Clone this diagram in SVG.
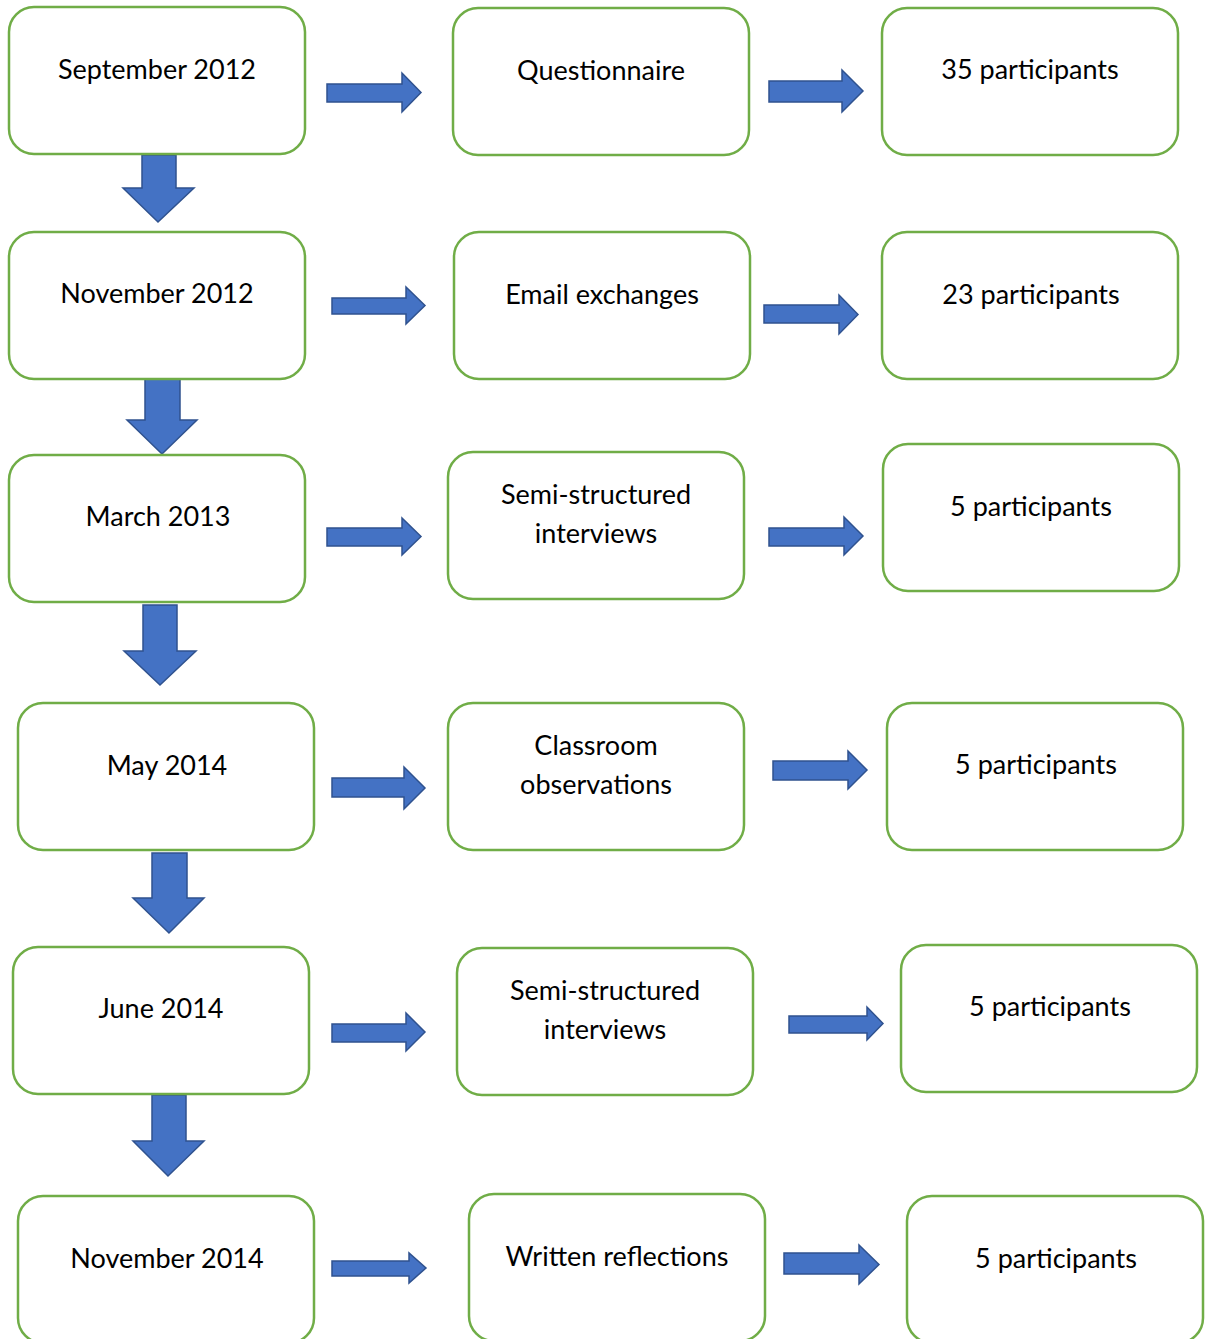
<svg xmlns="http://www.w3.org/2000/svg" width="1209" height="1339" viewBox="0 0 1209 1339">
<style>
.box{fill:#fff;stroke:#70AD47;stroke-width:2.5}
.arr{fill:#4472C4;stroke:#2F528F;stroke-width:1.5;stroke-linejoin:miter}
text{font-family:Lato,"Open Sans","Liberation Sans",sans-serif;font-size:27px;fill:#000;text-anchor:middle}
</style>
<rect width="1209" height="1339" fill="#fff"/>
<g id="connectors">
<path class="arr" d="M327 84L402 84L402 73L421 92.5L402 112L402 102L327 102Z"/>
<path class="arr" d="M769 81L842 81L842 70L863 91L842 112L842 102L769 102Z"/>
<path class="arr" d="M332 298L406 298L406 287L425 305.5L406 324L406 314L332 314Z"/>
<path class="arr" d="M764 305L839 305L839 295L858 314.5L839 334L839 323L764 323Z"/>
<path class="arr" d="M327 528L402 528L402 518L421 536.5L402 555L402 546L327 546Z"/>
<path class="arr" d="M769 528L844 528L844 517L863 536L844 555L844 546L769 546Z"/>
<path class="arr" d="M332 778L404 778L404 767L425 788L404 809L404 797L332 797Z"/>
<path class="arr" d="M773 761L848 761L848 751L867 770L848 789L848 780L773 780Z"/>
<path class="arr" d="M332 1024L406 1024L406 1013L425 1032L406 1051L406 1042L332 1042Z"/>
<path class="arr" d="M789 1016L867 1016L867 1007L883 1023.5L867 1040L867 1033L789 1033Z"/>
<path class="arr" d="M332 1261L409 1261L409 1253L426 1268L409 1283L409 1276L332 1276Z"/>
<path class="arr" d="M784 1253L859 1253L859 1245L879 1264.5L859 1284L859 1274L784 1274Z"/>
<path class="arr" d="M142 155L176 155L176 188L194 188L158 222L123 188L142 188Z"/>
<path class="arr" d="M145 378L180 378L180 420L197 420L162 454L127 420L145 420Z"/>
<path class="arr" d="M143 605L177 605L177 651L196 651L160 685L124 651L143 651Z"/>
<path class="arr" d="M152 853L187 853L187 898L204 898L169 933L133 898L152 898Z"/>
<path class="arr" d="M152 1095L186 1095L186 1141L204 1141L168 1176L133 1141L152 1141Z"/>
</g>
<g id="n-sep2012"><rect class="box" x="9" y="7" width="296" height="147" rx="25"/><text x="157" y="79">September 2012</text></g>
<g id="n-questionnaire"><rect class="box" x="453" y="8" width="296" height="147" rx="25"/><text x="601" y="80">Questionnaire</text></g>
<g id="n-35"><rect class="box" x="882" y="8" width="296" height="147" rx="25"/><text x="1030" y="79">35 participants</text></g>
<g id="n-nov2012"><rect class="box" x="9" y="232" width="296" height="147" rx="25"/><text x="157" y="303">November 2012</text></g>
<g id="n-email"><rect class="box" x="454" y="232" width="296" height="147" rx="25"/><text x="602" y="304">Email exchanges</text></g>
<g id="n-23"><rect class="box" x="882" y="232" width="296" height="147" rx="25"/><text x="1031" y="304">23 participants</text></g>
<g id="n-mar2013"><rect class="box" x="9" y="455" width="296" height="147" rx="25"/><text x="158" y="526">March 2013</text></g>
<g id="n-semi1"><rect class="box" x="448" y="452" width="296" height="147" rx="25"/><text x="596" y="504">Semi-structured</text><text x="596" y="543">interviews</text></g>
<g id="n-5a"><rect class="box" x="883" y="444" width="296" height="147" rx="25"/><text x="1031" y="516">5 participants</text></g>
<g id="n-may2014"><rect class="box" x="18" y="703" width="296" height="147" rx="25"/><text x="167" y="775">May 2014</text></g>
<g id="n-class"><rect class="box" x="448" y="703" width="296" height="147" rx="25"/><text x="596" y="755">Classroom</text><text x="596" y="794">observations</text></g>
<g id="n-5b"><rect class="box" x="887" y="703" width="296" height="147" rx="25"/><text x="1036" y="774">5 participants</text></g>
<g id="n-jun2014"><rect class="box" x="13" y="947" width="296" height="147" rx="25"/><text x="161" y="1018">June 2014</text></g>
<g id="n-semi2"><rect class="box" x="457" y="948" width="296" height="147" rx="25"/><text x="605" y="1000">Semi-structured</text><text x="605" y="1039">interviews</text></g>
<g id="n-5c"><rect class="box" x="901" y="945" width="296" height="147" rx="25"/><text x="1050" y="1016">5 participants</text></g>
<g id="n-nov2014"><rect class="box" x="18" y="1196" width="296" height="147" rx="25"/><text x="167" y="1268">November 2014</text></g>
<g id="n-written"><rect class="box" x="469" y="1194" width="296" height="147" rx="25"/><text x="617" y="1266">Written reflections</text></g>
<g id="n-5d"><rect class="box" x="907" y="1196" width="296" height="147" rx="25"/><text x="1056" y="1268">5 participants</text></g>
</svg>
